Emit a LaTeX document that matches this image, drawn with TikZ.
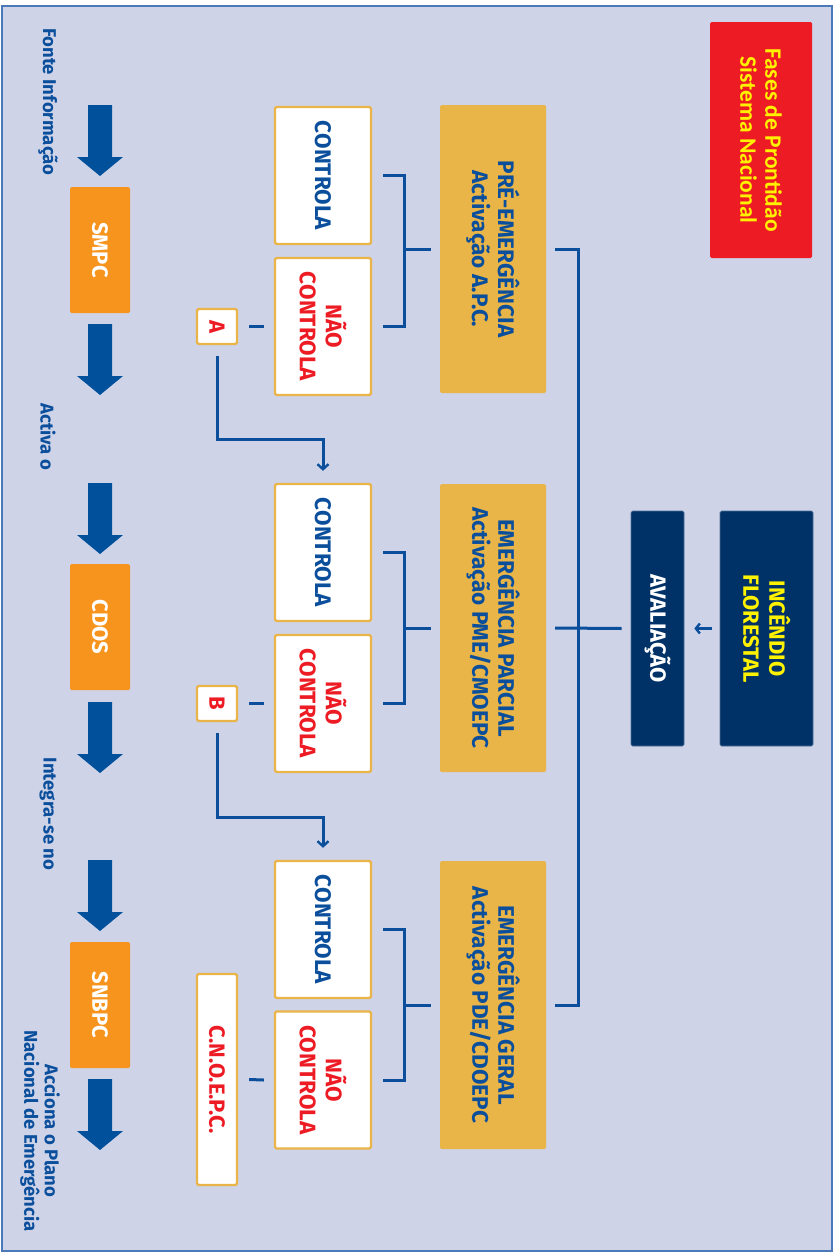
\documentclass[tikz,border=0pt]{standalone}
\usepackage{fontspec}
\setmainfont{Fira Sans}
\newfontfamily\dinf{Fira Sans}
\newfontfamily\calf{Carlito}
\usetikzlibrary{arrows.meta,calc}
\definecolor{bgc}{HTML}{CED3E8}
\definecolor{framec}{HTML}{4A78B8}
\definecolor{dblue}{HTML}{0B4F9C}
\definecolor{arrowc}{HTML}{00509B}
\definecolor{phasec}{HTML}{E9B548}
\definecolor{orangec}{HTML}{F7941D}
\definecolor{redc}{HTML}{ED1C24}
\definecolor{navyc}{HTML}{003268}
\definecolor{ylwc}{HTML}{FFF200}
\begin{document}
\begin{tikzpicture}[x=1pt,y=-1pt,
  rbox/.style={rotate=-90,inner sep=0pt,align=center,rounded corners=1.5pt},
  redbox/.style={rbox,fill=redc,text=ylwc,font=\calf\bfseries\fontsize{23.5}{25}\selectfont},
  navybox/.style={rbox,fill=navyc,draw=navyc!70!white,line width=0.6pt,font=\dinf\bfseries\fontsize{22}{26}\selectfont},
  phasebox/.style={rbox,fill=phasec,text=dblue,minimum width=288pt,minimum height=106pt,font=\dinf\bfseries\fontsize{22.5}{26}\selectfont},
  ctrlbox/.style={rbox,fill=white,draw=phasec,line width=2.4pt,minimum width=137pt,minimum height=96pt,font=\dinf\bfseries\fontsize{22.5}{26}\selectfont},
  letterbox/.style={rbox,fill=white,draw=phasec,line width=2.4pt,minimum height=40pt,text=redc,font=\dinf\bfseries\fontsize{22}{26}\selectfont},
  orbox/.style={rbox,fill=orangec,text=white,minimum width=126pt,minimum height=60pt,font=\dinf\bfseries\fontsize{22}{26}\selectfont},
  sidelabel/.style={rotate=-90,inner sep=0pt,align=center,text=dblue,font=\dinf\bfseries\fontsize{18.5}{20.5}\selectfont},
  conn/.style={draw=dblue,line width=3pt},
  tip/.style={-{Straight Barb[length=5pt,width=11pt,line width=2.4pt]}}
]
\useasboundingbox (0,0) rectangle (835,1253);
\fill[white] (0,0) rectangle (835,1253);
\draw[fill=bgc,draw=framec,line width=2pt] (2,6) rectangle (832,1251);

% top right
\node[redbox,minimum width=236pt,minimum height=102pt] (fases) at (761,140) {Fases de Prontidão\\Sistema Nacional};
\node[navybox,text=ylwc,minimum width=235pt,minimum height=93pt] (inc) at (766.5,628.5) {INCÊNDIO\\FLORESTAL};
\node[navybox,text=white,minimum width=235pt,minimum height=53pt] (av) at (657.5,628.5) {AVALIAÇÃO};

% phase boxes
\node[phasebox] (p1) at (493,249) {PRÉ-EMERGÊNCIA\\Activação A.P.C.};
\node[phasebox] (p2) at (493,628) {EMERGÊNCIA PARCIAL\\Activação PME/CMOEPC};
\node[phasebox] (p3) at (493,1005) {EMERGÊNCIA GERAL\\Activação PDE/CDOEPC};

% controla boxes
\node[ctrlbox,text=dblue] (c1) at (323,175.5) {CONTROLA};
\node[ctrlbox,text=redc] (n1) at (323,326.5) {NÃO\\CONTROLA};
\node[ctrlbox,text=dblue] (c2) at (323,552.5) {CONTROLA};
\node[ctrlbox,text=redc] (n2) at (323,703.5) {NÃO\\CONTROLA};
\node[ctrlbox,text=dblue] (c3) at (323,929.5) {CONTROLA};
\node[ctrlbox,text=redc] (n3) at (323,1080) {NÃO\\CONTROLA};

% letter boxes
\node[letterbox,minimum width=35pt] (a) at (217,326.5) {A};
\node[letterbox,minimum width=35pt] (b) at (217,703.5) {B};
\node[letterbox,minimum width=211pt] (cn) at (217,1079.5) {C.N.O.E.P.C.};

% left column
\node[orbox] (smpc) at (100,250) {SMPC};
\node[orbox] (cdos) at (100,627) {CDOS};
\node[orbox] (snbpc) at (100,1005) {SNBPC};

\node[sidelabel] (l1) at (48,102) {Fonte Informação};
\node[sidelabel] (l2) at (48,437) {Activa o};
\node[sidelabel] (l3) at (48,814) {Integra-se no};
\node[sidelabel] (l4) at (40,1131) {Acciona o Plano\\Nacional de Emergência};

\foreach \y in {105,324,483,702,860,1079}{
  \fill[arrowc] (88,\y) -- (112,\y) -- (112,\y+52) -- (123,\y+52) -- (100,\y+71) -- (77,\y+52) -- (88,\y+52) -- cycle;
}

% connectors
\draw[conn] ([xshift=9pt]p1.north) -- ++(23,0) |- ([xshift=9pt]p3.north);
\draw[conn] ([xshift=9pt]p2.north) -- ([xshift=-9pt]av.south);
\draw[draw=dblue,line width=2.4pt,-{Straight Barb[length=4pt,width=10pt,line width=2.4pt]}] ([xshift=-8pt]inc.south) -- ([xshift=10pt]av.north);

\foreach \i in {1,2,3}{
  \draw[conn] ([xshift=11pt]c\i.north) -| ([xshift=-35pt]p\i.south) |- ([xshift=11pt]n\i.north);
  \draw[conn] ([xshift=-35pt]p\i.south) -- ([xshift=-9pt]p\i.south);
}
\draw[conn] ([xshift=11pt]a.north) -- ([xshift=-10pt]n1.south);
\draw[conn] ([xshift=11pt]b.north) -- ([xshift=-10pt]n2.south);
\draw[conn] ([xshift=11pt]cn.north) -- ([xshift=-10pt]n3.south);

\draw[conn,tip] ([yshift=-11pt]a.east) -- ++(0,83) -| ([yshift=12pt]c2.west);
\draw[conn,tip] ([yshift=-11pt]b.east) -- ++(0,84) -| ([yshift=12pt]c3.west);
\end{tikzpicture}
\end{document}
